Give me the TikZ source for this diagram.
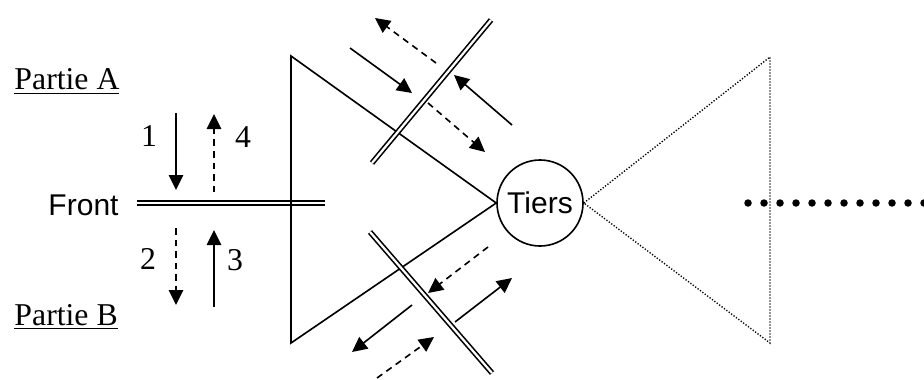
\documentclass[tikz,border=0pt]{standalone}
\usepackage{fontspec}
\setmainfont{Liberation Serif}
\newfontfamily\arialfont{Liberation Sans}
\usetikzlibrary{arrows.meta}

\tikzset{
  wall/.style={double,line width=0.65pt,double distance=0.9pt},
  flow/.style={-{Triangle[length=6pt,width=5.8pt]},line width=0.65pt},
  backflow/.style={flow,dash pattern=on 2.6pt off 2pt},
  reach/.style={line width=0.55pt,dash pattern=on 0.5pt off 0.7pt},
  serif/.style={inner sep=0pt,font=\fontsize{12.7pt}{15pt}\selectfont},
  sans/.style={inner sep=0pt,font=\arialfont\fontsize{12pt}{14pt}\selectfont},
}

\begin{document}
\begin{tikzpicture}[x=0.4pt,y=-0.4pt]
    \useasboundingbox (0,0) rectangle (924,379);

    % parties
    \node [serif,anchor=base west] (partA) at (14,90) {\underline{Partie A}};
    \node [serif,anchor=base west] (partB) at (14,325) {\underline{Partie B}};
    \node [sans,anchor=base west] (front) at (48,215) {Front};

    % front line and its flows
    \coordinate (frontL) at (137,203);
    \coordinate (frontR) at (325,203);
    \draw [wall] (frontL) -- (frontR);

    \draw [flow] (176,113) -- (176,190);
    \draw [backflow] (176,228) -- (176,305);
    \draw [flow] (214,307) -- (214,230);
    \draw [backflow] (214,192) -- (214,114);

    \node [serif] (n1) at (149,136) {1};
    \node [serif] (n2) at (148,259) {2};
    \node [serif] (n3) at (235,260) {3};
    \node [serif] (n4) at (243,137) {4};

    % third party
    \node [sans,circle,draw,line width=0.65pt,minimum size=34.4pt] (tiers) at (540,203) {Tiers};

    \coordinate (top) at (291,56);
    \coordinate (bot) at (291,343);
    \draw [line width=0.65pt] (tiers.west) -- (top) -- (bot) -- (tiers.west);

    \coordinate (farTop) at (770,57);
    \coordinate (farBot) at (770,343);
    \draw [reach] (tiers.east) -- (farTop) -- (farBot) -- (tiers.east);

    \foreach \i in {0,...,11}
      \fill (748+16*\i,203) circle (1.5pt);

    % upper wall
    \draw [wall] (372,163) -- (491,20);
    \draw [flow] (350,48) -- (412,93);
    \draw [backflow] (436,63) -- (375,18);
    \draw [flow] (512,125) -- (454,75);
    \draw [backflow] (428,103) -- (485,152);

    % lower wall
    \draw [wall] (370,232) -- (492,373);
    \draw [backflow] (488,247) -- (428,293);
    \draw [flow] (455,322) -- (512,278);
    \draw [flow] (412,305) -- (352,352);
    \draw [backflow] (377,378) -- (434,337);
  \end{tikzpicture}
\end{document}
